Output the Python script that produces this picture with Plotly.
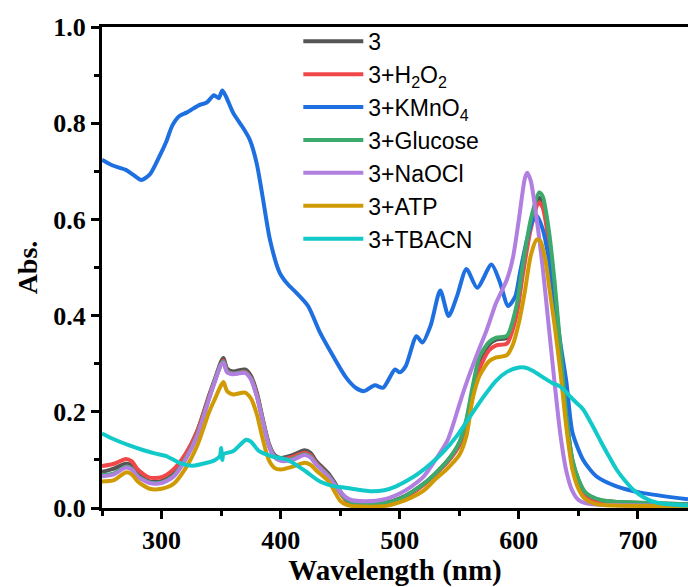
import plotly.graph_objects as go

# ---------------- data ----------------
wl_3 = [250, 260, 270, 275, 280, 290, 300, 310, 320, 330, 340, 345, 350, 352, 355, 360, 370, 375, 380, 385,
        390, 395, 400, 410, 420, 425, 430, 440, 450, 455, 460, 470, 480, 490, 500, 510, 520, 530, 540, 550,
        556, 561, 567, 575, 581, 590, 598, 603, 610, 617, 620, 625, 630, 635, 640, 645, 650, 655, 660, 670,
        680, 700, 742]
abs_3 = [0.075, 0.082, 0.092, 0.088, 0.070, 0.055, 0.056, 0.075, 0.110, 0.160, 0.235, 0.270, 0.305, 0.312,
         0.290, 0.284, 0.288, 0.275, 0.240, 0.185, 0.135, 0.110, 0.104, 0.110, 0.120, 0.115, 0.097, 0.072,
         0.035, 0.018, 0.012, 0.010, 0.011, 0.012, 0.020, 0.033, 0.050, 0.072, 0.098, 0.135, 0.180, 0.240,
         0.305, 0.340, 0.350, 0.354, 0.410, 0.490, 0.590, 0.645, 0.635, 0.565, 0.455, 0.315, 0.185, 0.098,
         0.058, 0.034, 0.024, 0.015, 0.013, 0.011, 0.008]

wl_h2o2 = wl_3
abs_h2o2 = [0.087, 0.092, 0.102, 0.097, 0.080, 0.063, 0.064, 0.080, 0.112, 0.160, 0.232, 0.266, 0.300, 0.306,
            0.285, 0.279, 0.283, 0.270, 0.236, 0.182, 0.132, 0.107, 0.101, 0.106, 0.115, 0.110, 0.093, 0.068,
            0.031, 0.015, 0.009, 0.006, 0.006, 0.008, 0.016, 0.030, 0.048, 0.070, 0.095, 0.130, 0.172, 0.230,
            0.290, 0.328, 0.338, 0.342, 0.400, 0.480, 0.580, 0.635, 0.625, 0.555, 0.445, 0.305, 0.178, 0.092,
            0.052, 0.030, 0.020, 0.012, 0.010, 0.008, 0.006]

wl_kmno4 = [250, 259, 270, 276, 283, 290, 298, 304, 309, 315, 321, 325, 332, 338, 344, 348, 351, 354, 360, 368,
            374, 380, 385, 391, 399, 406, 413, 423, 433, 444, 455, 463, 470, 479, 486, 496, 500, 505, 514, 519,
            526, 534, 541, 548, 556, 565, 577, 584, 591, 597, 601, 607, 612, 615, 620, 625, 630, 635, 640, 645,
            654, 665, 682, 702, 742]
abs_kmno4 = [0.724, 0.712, 0.703, 0.693, 0.682, 0.693, 0.730, 0.762, 0.795, 0.815, 0.822, 0.828, 0.838, 0.843,
             0.858, 0.852, 0.868, 0.856, 0.822, 0.792, 0.766, 0.715, 0.645, 0.558, 0.490, 0.465, 0.448, 0.420,
             0.365, 0.316, 0.271, 0.250, 0.243, 0.255, 0.250, 0.288, 0.282, 0.295, 0.357, 0.344, 0.380, 0.452,
             0.399, 0.440, 0.497, 0.458, 0.506, 0.470, 0.420, 0.440, 0.490, 0.560, 0.600, 0.607, 0.580, 0.520,
             0.430, 0.340, 0.260, 0.157, 0.100, 0.066, 0.045, 0.032, 0.018]

wl_glucose = wl_3
abs_glucose = [0.068, 0.072, 0.086, 0.082, 0.066, 0.053, 0.053, 0.067, 0.102, 0.152, 0.229, 0.266, 0.299, 0.304,
               0.284, 0.279, 0.282, 0.269, 0.233, 0.181, 0.131, 0.106, 0.099, 0.102, 0.112, 0.107, 0.091, 0.067,
               0.033, 0.018, 0.012, 0.009, 0.009, 0.011, 0.019, 0.033, 0.050, 0.072, 0.098, 0.136, 0.185, 0.250,
               0.315, 0.345, 0.354, 0.358, 0.420, 0.500, 0.600, 0.656, 0.648, 0.580, 0.470, 0.330, 0.190, 0.100,
               0.060, 0.035, 0.025, 0.016, 0.013, 0.011, 0.008]

wl_naocl = [250, 260, 270, 275, 280, 290, 300, 310, 320, 330, 340, 345, 350, 352, 355, 360, 370, 375, 380, 385,
            390, 395, 400, 410, 420, 425, 430, 440, 450, 455, 460, 470, 480, 490, 500, 510, 520, 530, 540, 545,
            550, 556, 565, 573, 581, 590, 595, 600, 605, 607, 610, 615, 620, 625, 630, 635, 640, 645, 650, 660,
            680, 742]
abs_naocl = [0.066, 0.070, 0.084, 0.080, 0.065, 0.052, 0.052, 0.065, 0.100, 0.150, 0.228, 0.265, 0.298, 0.302,
             0.282, 0.278, 0.281, 0.268, 0.232, 0.180, 0.130, 0.105, 0.098, 0.100, 0.110, 0.105, 0.090, 0.066,
             0.034, 0.022, 0.016, 0.014, 0.015, 0.020, 0.030, 0.045, 0.065, 0.100, 0.140, 0.175, 0.215, 0.260,
             0.320, 0.370, 0.427, 0.475, 0.520, 0.600, 0.685, 0.697, 0.680, 0.600, 0.500, 0.380, 0.260, 0.150,
             0.075, 0.035, 0.017, 0.008, 0.006, 0.005]

wl_atp = [250, 260, 270, 275, 280, 290, 300, 310, 320, 330, 340, 345, 350, 352, 355, 360, 370, 375, 380, 385,
          390, 395, 400, 410, 420, 425, 430, 440, 450, 455, 460, 470, 480, 490, 500, 510, 520, 530, 540, 550,
          556, 561, 567, 575, 581, 590, 595, 600, 605, 610, 615, 618, 622, 626, 630, 635, 640, 645, 650, 655,
          665, 680, 742]
abs_atp = [0.055, 0.058, 0.074, 0.070, 0.055, 0.040, 0.040, 0.050, 0.082, 0.130, 0.200, 0.228, 0.255, 0.262,
           0.243, 0.236, 0.240, 0.228, 0.195, 0.143, 0.100, 0.083, 0.080, 0.086, 0.094, 0.090, 0.078, 0.056,
           0.015, 0.007, 0.004, 0.003, 0.003, 0.005, 0.012, 0.022, 0.036, 0.060, 0.082, 0.110, 0.150, 0.225,
           0.275, 0.305, 0.313, 0.318, 0.340, 0.385, 0.450, 0.525, 0.558, 0.555, 0.520, 0.450, 0.380, 0.280,
           0.165, 0.080, 0.040, 0.020, 0.008, 0.005, 0.004]

wl_tbacn = [250, 260, 273, 285, 295, 304, 315, 326, 338, 345, 349, 350, 351, 352, 360, 371, 375, 382, 393, 405,
            420, 433, 445, 452, 465, 475, 487, 497, 507, 517, 527, 536, 548, 559, 570, 581, 590, 600, 605, 612,
            620, 628, 635, 640, 647, 654, 661, 668, 675, 682, 689, 696, 705, 716, 742]
abs_tbacn = [0.155, 0.143, 0.130, 0.120, 0.113, 0.108, 0.094, 0.088, 0.094, 0.100, 0.108, 0.125, 0.100, 0.112,
             0.118, 0.142, 0.138, 0.118, 0.107, 0.101, 0.078, 0.055, 0.045, 0.043, 0.038, 0.035, 0.037, 0.045,
             0.058, 0.074, 0.094, 0.115, 0.150, 0.190, 0.230, 0.265, 0.283, 0.292, 0.292, 0.285, 0.272, 0.260,
             0.252, 0.240, 0.222, 0.205, 0.175, 0.142, 0.110, 0.080, 0.057, 0.038, 0.022, 0.011, 0.005]

series_names = ["3", "3+H<sub>2</sub>O<sub>2</sub>", "3+KMnO<sub>4</sub>", "3+Glucose", "3+NaOCl", "3+ATP", "3+TBACN"]
series_x = [wl_3, wl_h2o2, wl_kmno4, wl_glucose, wl_naocl, wl_atp, wl_tbacn]
series_y = [abs_3, abs_h2o2, abs_kmno4, abs_glucose, abs_naocl, abs_atp, abs_tbacn]
colors = ["#555555", "#F04848", "#1E6FE0", "#3BAA6B", "#B07FE0", "#D09A04", "#12C9C9"]

x_ticks = [300, 400, 500, 600, 700]
y_ticks = [0.0, 0.2, 0.4, 0.6, 0.8, 1.0]

fig = go.Figure()
for name, xs, ys, c in zip(series_names, series_x, series_y, colors):
    fig.add_trace(go.Scatter(x=xs, y=ys, name=name, mode="lines",
                             line=dict(color=c, width=4, shape="spline", smoothing=0.7)))

tick_font = dict(family="Liberation Serif", size=26, color="black")
xtitle_font = dict(family="Liberation Serif", size=29, color="black")
ytitle_font = dict(family="Liberation Serif", size=28, color="black")

fig.update_layout(
    width=688, height=587,
    margin=dict(l=102, r=0, t=27, b=79),
    paper_bgcolor="white", plot_bgcolor="white",
    showlegend=True,
    legend=dict(x=0.335, y=1.015, xanchor="left", yanchor="top",
                font=dict(family="Liberation Sans", size=23, color="black"),
                bgcolor="rgba(0,0,0,0)", itemwidth=60, tracegroupgap=0),
    xaxis=dict(range=[250, 742], tickvals=x_ticks, ticktext=[f"<b>{v}</b>" for v in x_ticks],
               showline=True, linecolor="black", linewidth=3, mirror=True,
               ticks="outside", ticklen=8, tickwidth=2.5, tickcolor="black",
               minor=dict(dtick=50, tick0=250, ticks="outside", ticklen=5, tickwidth=2.5, tickcolor="black"),
               showgrid=False, zeroline=False, tickfont=tick_font, ticklabelstandoff=-1,
               title=dict(text="<b>Wavelength (nm)</b>", font=xtitle_font, standoff=9)),
    yaxis=dict(range=[0, 1.0], tickvals=y_ticks, ticktext=[f"<b>{v:.1f}</b>" for v in y_ticks],
               showline=True, linecolor="black", linewidth=3,
               ticks="outside", ticklen=8, tickwidth=2.5, tickcolor="black",
               minor=dict(dtick=0.1, tick0=0, ticks="outside", ticklen=5, tickwidth=2.5, tickcolor="black"),
               showgrid=False, zeroline=False, tickfont=tick_font,
               title=dict(text="<b>Abs.</b>", font=ytitle_font, standoff=8)),
)

fig.write_html("out.html")
